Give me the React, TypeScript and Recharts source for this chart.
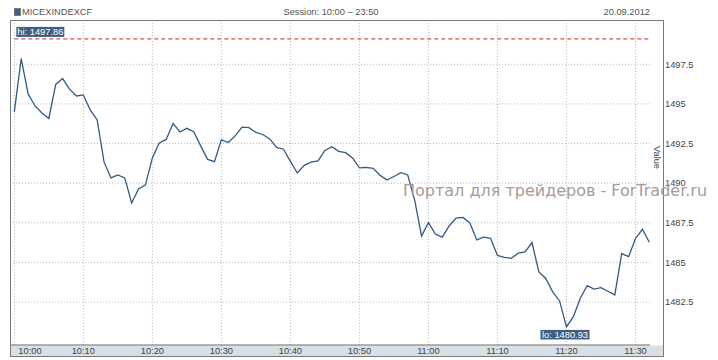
import React from 'react';
import { LineChart, Line, XAxis, YAxis, CartesianGrid, ReferenceLine, ReferenceDot } from 'recharts';

const SYMBOL = 'MICEXINDEXCF';
const SESSION = 'Session: 10:00 – 23:50';
const TRADE_DATE = '20.09.2012';
const WATERMARK = 'Портал для трейдеров - ForTrader.ru';
const AXIS_TITLE = 'Value';

// minutes after 10:00
const TIME_TICKS = [0, 10, 20, 30, 40, 50, 60, 70, 80, 90];
const TIME_LABELS = ['10:00', '10:10', '10:20', '10:30', '10:40', '10:50', '11:00', '11:10', '11:20', '11:30'];
const VALUE_TICKS = [1482.5, 1485, 1487.5, 1490, 1492.5, 1495, 1497.5];

// one close per minute, 10:00 .. 11:32
const VALUES = [
  1494.5, 1497.86, 1495.63, 1494.87, 1494.43, 1494.08, 1496.23, 1496.6, 1495.93, 1495.5,
  1495.57, 1494.62, 1493.99, 1491.34, 1490.33, 1490.52, 1490.33, 1488.75, 1489.63, 1489.89,
  1491.59, 1492.54, 1492.76, 1493.77, 1493.23, 1493.46, 1493.25, 1492.35, 1491.5, 1491.36,
  1492.73, 1492.56, 1492.98, 1493.53, 1493.5, 1493.2, 1493.07, 1492.79, 1492.25, 1492.14,
  1491.37, 1490.64, 1491.12, 1491.32, 1491.4, 1492.06, 1492.3, 1492.01, 1491.92, 1491.59,
  1490.96, 1491.0, 1490.93, 1490.49, 1490.2, 1490.42, 1490.66, 1490.52, 1488.94, 1486.67,
  1487.51, 1486.79, 1486.59, 1487.3, 1487.79, 1487.84, 1487.49, 1486.42, 1486.59, 1486.52,
  1485.44, 1485.32, 1485.26, 1485.58, 1485.66, 1486.25, 1484.4, 1483.99, 1483.14, 1482.57,
  1480.93, 1481.58, 1482.74, 1483.53, 1483.32, 1483.41, 1483.18, 1482.95, 1485.56, 1485.36,
  1486.51, 1487.09, 1486.27,
];

const HI = { minute: 1, value: 1497.86 };
const LO = { minute: 80, value: 1480.93 };
const HI_LINE_LEVEL = 1499.1;

const chartData = VALUES.map((value, minute) => ({ minute, value }));

const FONT = '"Liberation Sans", Arial, sans-serif';
const BADGE = '#3d5f82';
const GRID = '#bcbcbc';

function TimeTick(props: any) {
  const { x, y, payload } = props;
  const idx = TIME_TICKS.indexOf(payload.value);
  const first = idx === 0;
  return (
    <text x={first ? x + 4 : x} y={y} dy="0.71em" textAnchor={first ? 'start' : 'middle'} fill="#444" fontSize={9.3} fontFamily={FONT}>
      {TIME_LABELS[idx]}
    </text>
  );
}

function HiLabel(props: any) {
  const { viewBox } = props;
  const x = viewBox.x + 2;
  const y = viewBox.y - 12;
  return (
    <g>
      <rect x={x} y={y} width={48} height={10} fill={BADGE} />
      <text x={x + 1} y={y + 8.5} fill="#fff" fontSize={9.3} fontFamily={FONT}>
        hi: {HI.value.toFixed(2)}
      </text>
    </g>
  );
}

function LoLabel(props: any) {
  const { viewBox } = props;
  const cx = viewBox.x - 1.5;
  const y = viewBox.y + 3;
  return (
    <g>
      <rect x={cx - 24.5} y={y} width={49} height={9.5} fill={BADGE} />
      <text x={cx} y={y + 8.2} textAnchor="middle" fill="#fff" fontSize={9.3} fontFamily={FONT}>
        lo: {LO.value.toFixed(2)}
      </text>
    </g>
  );
}

export default function App() {
  return (
    <div style={{ position: 'relative', width: 718, height: 360, background: '#fff' }}>
      <style>{'body{margin:0}'}</style>
      <svg width={718} height={360} style={{ position: 'absolute', left: 0, top: 0 }}>
        <rect x={10.5} y={345.5} width={653} height={11} fill="#d7dfe7" />
        <rect x={10.5} y={20.5} width={653} height={336} fill="none" stroke="#7a7a7a" />
      </svg>
      <div style={{ position: 'absolute', left: 0, top: 0 }}>
        <LineChart width={718} height={360} data={chartData} margin={{ top: 21, right: 18, bottom: 3, left: 11 }}>
          <XAxis
            dataKey="minute"
            type="number"
            domain={[-0.48, 92.1]}
            allowDataOverflow
            ticks={TIME_TICKS}
            height={12}
            tickSize={0}
            tickMargin={2}
            tickLine={false}
            axisLine={{ stroke: '#6a6a6a' }}
            tick={<TimeTick />}
          />
          <YAxis
            orientation="right"
            type="number"
            domain={[1479.79, 1500.23]}
            allowDataOverflow
            ticks={VALUE_TICKS}
            width={50}
            tickSize={0}
            tickMargin={15}
            tickLine={false}
            axisLine={false}
            tick={{ fill: '#444', fontSize: 9.3, fontFamily: FONT }}
          />
          {TIME_TICKS.map((t) => (
            <ReferenceLine key={`vx${t}`} x={t} stroke={GRID} strokeDasharray="1 2" />
          ))}
          {VALUE_TICKS.map((v) => (
            <ReferenceLine key={`hy${v}`} y={v} stroke={GRID} strokeDasharray="1 2" />
          ))}
          <ReferenceLine
            segment={[{ x: 0, y: HI_LINE_LEVEL }, { x: 92, y: HI_LINE_LEVEL }]}
            stroke="#cc2222"
            strokeDasharray="4 3"
            label={<HiLabel />}
          />
          <Line
            type="linear"
            dataKey="value"
            stroke="#335a84"
            strokeWidth={1.3}
            dot={false}
            isAnimationActive={false}
          />
          <ReferenceDot x={LO.minute} y={LO.value} r={0} fill="none" stroke="none" label={<LoLabel />} />
        </LineChart>
      </div>
      <svg width={718} height={360} style={{ position: 'absolute', left: 0, top: 0, pointerEvents: 'none' }}>
        <rect x={14.5} y={8.5} width={6} height={7} fill={BADGE} stroke="#6b7f94" />
        <text x={22} y={15} fontSize={9.3} fontFamily={FONT} fill="#555">{SYMBOL}</text>
        <text x={331} y={15} textAnchor="middle" fontSize={9.3} fontFamily={FONT} fill="#555">{SESSION}</text>
        <text x={650} y={15} textAnchor="end" fontSize={9.3} fontFamily={FONT} fill="#555">{TRADE_DATE}</text>
        <text
          x={657}
          y={157.5}
          textAnchor="middle"
          dominantBaseline="central"
          fontSize={9.3}
          fontFamily={FONT}
          fill="#444"
          transform="rotate(90 657 157.5)"
        >
          {AXIS_TITLE}
        </text>
        <text x={403} y={196} fontSize={16} fontFamily='"DejaVu Sans", sans-serif' fill="#a99a9a">
          {WATERMARK}
        </text>
      </svg>
    </div>
  );
}
